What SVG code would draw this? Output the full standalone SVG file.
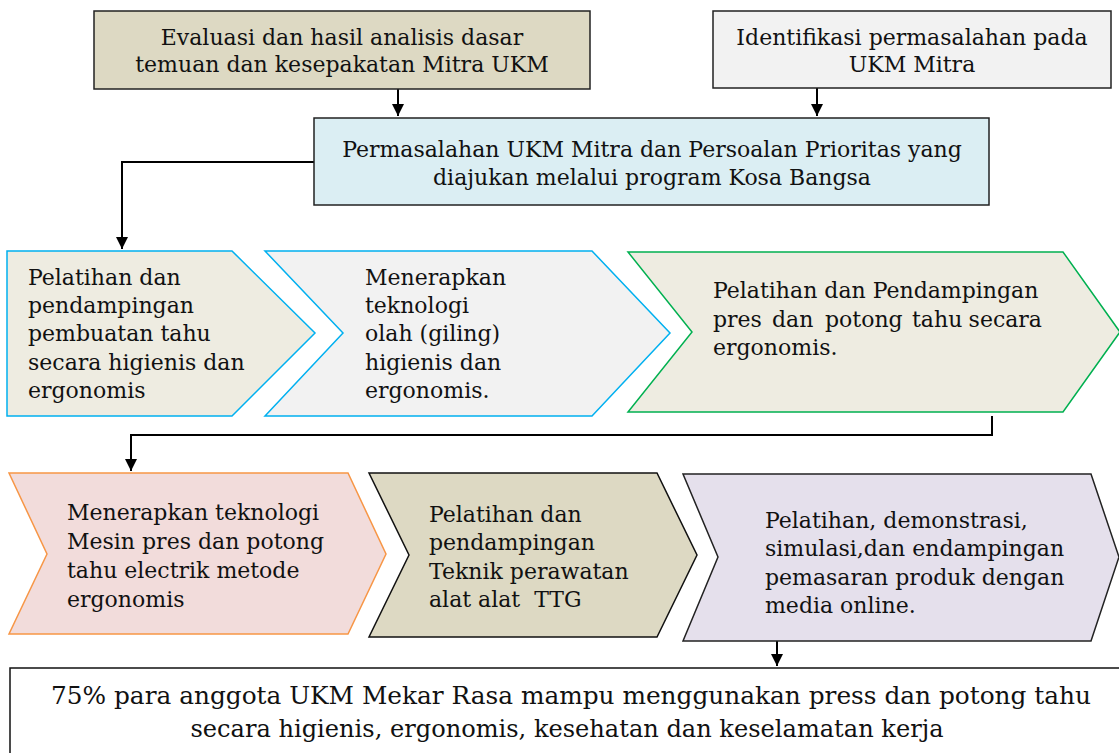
<svg xmlns="http://www.w3.org/2000/svg" width="1119" height="753" viewBox="0 0 1119 753">
<defs>
<marker id="ah" viewBox="0 0 10 10" refX="10" refY="5" markerWidth="6" markerHeight="6" markerUnits="strokeWidth" orient="auto">
<path d="M0,0 L10,5 L0,10 Z" fill="#000"/>
</marker>
<style>
text{font-family:"DejaVu Serif","Liberation Serif",serif;font-size:22px;fill:#111;}
.c{text-anchor:middle;}
.box{stroke:#222;stroke-width:1.5;}
.conn{fill:none;stroke:#000;stroke-width:2;}
</style>
</defs>
<rect width="1119" height="753" fill="#fff"/>
<g id="connectors">
<path class="conn" d="M398,89 V116" marker-end="url(#ah)"/>
<path class="conn" d="M817,88 V116" marker-end="url(#ah)"/>
<path class="conn" d="M314,162 H122 V249" marker-end="url(#ah)"/>
<path class="conn" d="M992,416 V435 H131 V471" marker-end="url(#ah)"/>
<path class="conn" d="M777,641 V666" marker-end="url(#ah)"/>
</g>
<g id="n-evaluasi">
<rect class="box" x="94" y="11" width="496" height="78" fill="#ddd9c3"/>
<text class="c" x="342" y="45">Evaluasi dan hasil analisis dasar</text>
<text class="c" x="342" y="72">temuan dan kesepakatan Mitra UKM</text>
</g>
<g id="n-identifikasi">
<rect class="box" x="713" y="11" width="398" height="77" fill="#f2f2f2"/>
<text class="c" x="912" y="45">Identifikasi permasalahan pada</text>
<text class="c" x="912" y="72">UKM Mitra</text>
</g>
<g id="n-permasalahan">
<rect class="box" x="314" y="118" width="675" height="87" fill="#dbeef3"/>
<text class="c" x="652" y="157">Permasalahan UKM Mitra dan Persoalan Prioritas yang</text>
<text class="c" x="652" y="185">diajukan melalui program Kosa Bangsa</text>
</g>
<g id="n-pelatihan1">
<polygon points="7,251 232,251 315,333 232,416 7,416" fill="#eeece1" stroke="#00b0f0" stroke-width="1.5"/>
<text x="28" y="285">Pelatihan dan</text>
<text x="28" y="313">pendampingan</text>
<text x="28" y="341">pembuatan tahu</text>
<text x="28" y="370">secara higienis dan</text>
<text x="28" y="398">ergonomis</text>
</g>
<g id="n-menerapkan1">
<polygon points="265,251 592,251 670,333 592,416 265,416 343,333" fill="#f2f2f2" stroke="#00b0f0" stroke-width="1.5"/>
<text x="365" y="285">Menerapkan</text>
<text x="365" y="313">teknologi</text>
<text x="365" y="341">olah (giling)</text>
<text x="365" y="370">higienis dan</text>
<text x="365" y="398">ergonomis.</text>
</g>
<g id="n-pelatihan2">
<polygon points="628,252 1063,252 1120,332 1063,412 628,412 692,332" fill="#eeece1" stroke="#00b050" stroke-width="1.5"/>
<text x="713" y="298">Pelatihan dan Pendampingan</text>
<text x="713" y="327">pres</text>
<text x="772" y="327">dan</text>
<text x="825" y="327">potong</text>
<text x="912" y="327">tahu</text>
<text x="1042" y="327" text-anchor="end">secara</text>
<text x="713" y="355">ergonomis.</text>
</g>
<g id="n-menerapkan2">
<polygon points="9,473 348,473 386,554 348,634 9,634 47,554" fill="#f2dcdb" stroke="#f79646" stroke-width="1.5"/>
<text x="67" y="520">Menerapkan teknologi</text>
<text x="67" y="549">Mesin pres dan potong</text>
<text x="67" y="578">tahu electrik metode</text>
<text x="67" y="607">ergonomis</text>
</g>
<g id="n-pelatihan3">
<polygon points="369,473 657,473 697,555 657,637 369,637 409,555" fill="#ddd9c3" stroke="#111" stroke-width="1.5"/>
<text x="429" y="522">Pelatihan dan</text>
<text x="429" y="550">pendampingan</text>
<text x="429" y="579">Teknik perawatan</text>
<text x="429" y="607" style="white-space:pre">alat alat  TTG</text>
</g>
<g id="n-pelatihan4">
<polygon points="683,474 1091,474 1119,557 1091,641 683,641 718,557" fill="#e5e0ec" stroke="#222" stroke-width="1.5"/>
<text x="765" y="528">Pelatihan, demonstrasi,</text>
<text x="765" y="556">simulasi,dan endampingan</text>
<text x="765" y="585">pemasaran produk dengan</text>
<text x="765" y="613">media online.</text>
</g>
<g id="n-hasil">
<rect x="10" y="668" width="1120" height="100" fill="#fff" stroke="#111" stroke-width="1.5"/>
<text class="c" x="571" y="704" textLength="1040" lengthAdjust="spacingAndGlyphs" style="font-size:25px">75% para anggota UKM Mekar Rasa mampu menggunakan press dan potong tahu</text>
<text class="c" x="567" y="737" textLength="753" lengthAdjust="spacingAndGlyphs" style="font-size:25px">secara higienis, ergonomis, kesehatan dan keselamatan kerja</text>
</g>
</svg>
